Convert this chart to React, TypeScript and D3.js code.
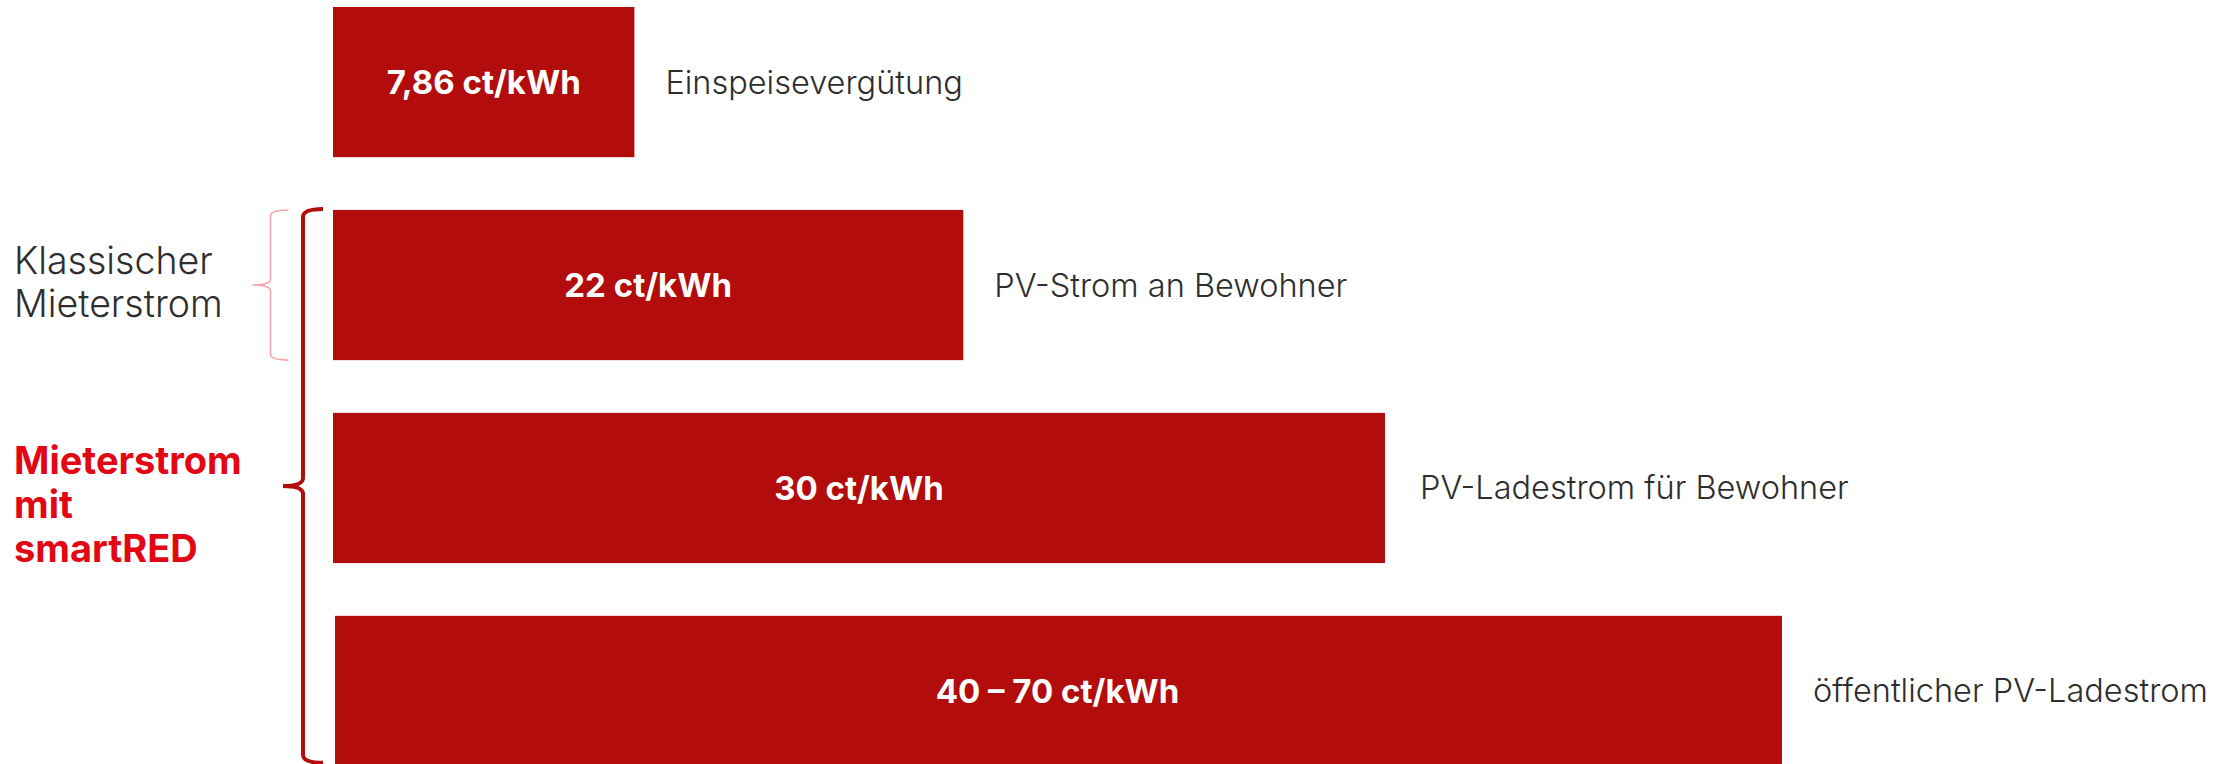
import React, { useEffect, useRef } from 'react';
import * as d3 from 'd3';

const WIDTH = 2223;
const HEIGHT = 764;

// Bars from top to bottom
const valueLabels = ['7,86 ct/kWh', '22 ct/kWh', '30 ct/kWh', '40 – 70 ct/kWh'];
const categories = [
  'Einspeisevergütung',
  'PV-Strom an Bewohner',
  'PV-Ladestrom für Bewohner',
  'öffentlicher PV-Ladestrom',
];
// relative bar length (longest bar = 100)
const barLengths = [20.8, 43.5, 72.6, 100];

const classicLines = ['Klassischer', 'Mieterstrom'];
const smartLines = ['Mieterstrom', 'mit', 'smartRED'];

const BAR_COLOR = '#b20c0c';
const RED_TEXT = '#e30613';
const LABEL_COLOR = '#2e2e2e';

const App: React.FC = () => {
  const svgRef = useRef<SVGSVGElement>(null);

  useEffect(() => {
    if (!svgRef.current) return;
    const svg = d3.select(svgRef.current);
    svg.selectAll('*').remove();

    const x0 = 333;
    const x = d3.scaleLinear().domain([0, 100]).range([0, 1449]);
    const y = d3
      .scaleBand<string>()
      .domain(categories)
      .range([7, 766])
      .paddingInner(0.26)
      .paddingOuter(0);

    const rows = categories.map((c, i) => ({
      cat: c,
      label: valueLabels[i],
      len: barLengths[i],
    }));

    const g = svg.append('g');

    g.selectAll('rect.bar')
      .data(rows)
      .join('rect')
      .attr('class', 'bar')
      .attr('x', (d, i) => (i === 3 ? x0 + 2 : x0))
      .attr('y', d => y(d.cat)!)
      .attr('width', (d, i) => x(d.len) - (i === 3 ? 2 : 0))
      .attr('height', y.bandwidth())
      .attr('fill', BAR_COLOR);

    // value labels inside the bars
    g.selectAll('text.val')
      .data(rows)
      .join('text')
      .attr('class', 'val')
      .attr('x', d => x0 + x(d.len) / 2)
      .attr('y', d => y(d.cat)! + y.bandwidth() / 2)
      .attr('text-anchor', 'middle')
      .attr('dominant-baseline', 'central')
      .attr('fill', '#fff')
      .attr('font-family', 'Inter, sans-serif')
      .attr('font-weight', 700)
      .attr('font-size', 33)
      .text(d => d.label);

    // category labels right of the bars
    g.selectAll('text.cat')
      .data(rows)
      .join('text')
      .attr('class', 'cat')
      .attr('x', (d, i) => x0 + x(d.len) + (i === 2 ? 35 : 31))
      .attr('y', d => y(d.cat)! + y.bandwidth() / 2)
      .attr('dominant-baseline', 'central')
      .attr('fill', LABEL_COLOR)
      .attr('font-family', 'Inter, sans-serif')
      .attr('font-weight', 300)
      .attr('font-size', 32.5)
      .text(d => d.cat);

    // brace helper: vertical line at bx, from top to bottom, tip pointing left
    const brace = (bx: number, top: number, bottom: number, arm: number, tip: number, r: number) => {
      const mid = (top + bottom) / 2;
      return [
        `M${bx + arm},${top}`,
        `Q${bx},${top} ${bx},${top + r}`,
        `L${bx},${mid - r}`,
        `Q${bx},${mid} ${bx - tip},${mid}`,
        `Q${bx},${mid} ${bx},${mid + r}`,
        `L${bx},${bottom - r}`,
        `Q${bx},${bottom} ${bx + arm},${bottom}`,
      ].join(' ');
    };

    const b2 = categories[1];
    const b4 = categories[3];

    // light brace around the classic tenant power bar
    g.append('path')
      .attr('d', brace(270.5, y(b2)!, y(b2)! + y.bandwidth(), 18, 18, 6))
      .attr('fill', 'none')
      .attr('stroke', '#f7a3a3')
      .attr('stroke-width', 1.6);

    // dark brace spanning smartRED bars
    g.append('path')
      .attr('d', brace(303, y(b2)! - 1, y(b4)! + 147, 20, 20, 8))
      .attr('fill', 'none')
      .attr('stroke', BAR_COLOR)
      .attr('stroke-width', 4);

    // left group labels
    g.append('text')
      .attr('x', 14)
      .attr('y', 274)
      .attr('fill', LABEL_COLOR)
      .attr('font-family', 'Inter, sans-serif')
      .attr('font-weight', 300)
      .attr('font-size', 37.5)
      .selectAll('tspan')
      .data(classicLines)
      .join('tspan')
      .attr('x', 14)
      .attr('dy', (d, i) => (i === 0 ? 0 : 43))
      .text(d => d);

    g.append('text')
      .attr('x', 14)
      .attr('y', 474)
      .attr('fill', RED_TEXT)
      .attr('font-family', 'Inter, sans-serif')
      .attr('font-weight', 700)
      .attr('font-size', 38)
      .selectAll('tspan')
      .data(smartLines)
      .join('tspan')
      .attr('x', 14)
      .attr('dy', (d, i) => (i === 0 ? 0 : 44))
      .text(d => d);
  }, []);

  return (
    <svg
      ref={svgRef}
      width={WIDTH}
      height={HEIGHT}
      style={{ position: 'absolute', left: 0, top: 0, background: '#fff' }}
    />
  );
};

export default App;
